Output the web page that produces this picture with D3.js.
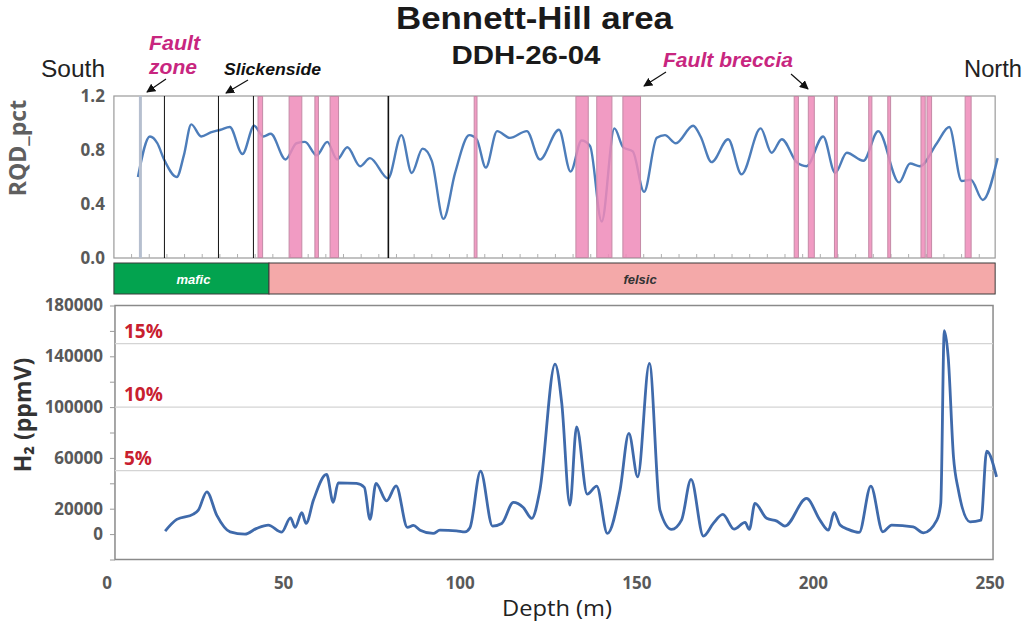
<!DOCTYPE html>
<html>
<head>
<meta charset="utf-8">
<script src="https://cdn.jsdelivr.net/npm/d3@7"></script>
<style>
  body { margin: 0; background: #fff; }
  svg { display: block; }
</style>
</head>
<body>
<div id="chart"></div>
<script>
// RQD log (depth in m, fraction)
const rqdDepth = [8.9, 12.3, 14.4, 16.3, 19.9, 21.9, 24.0, 26.8, 29.5, 32.3, 34.9, 38.5, 41.8, 44.4, 46.5,
  50.7, 53.8, 56.2, 59.5, 62.5, 65.3, 68.2, 71.8, 74.6, 79.7, 83.5, 86.4, 89.5, 92.1, 95.4, 98.7,
  102.7, 104.8, 107.4, 110.6, 114.2, 119.0, 122.7, 128.1, 131.4, 134.5, 136.9, 140.2, 143.8, 146.3,
  149.0, 152.2, 155.8, 158.1, 161.2, 166.1, 168.2, 171.3, 176.0, 179.8, 185.2, 188.3, 191.2, 195.4,
  198.2, 202.9, 206.3, 209.6, 214.3, 218.5, 224.4, 227.5, 230.3, 235.1, 238.6, 242.1, 244.7, 248.1, 252.3];
const rqdValue = [0.60, 0.90, 0.85, 0.73, 0.60, 0.76, 0.99, 0.90, 0.93, 0.95, 0.97, 0.77, 0.98, 0.90, 0.92,
  0.73, 0.85, 0.86, 0.76, 0.86, 0.73, 0.82, 0.68, 0.74, 0.59, 0.91, 0.63, 0.81, 0.72, 0.29, 0.63,
  0.91, 0.88, 0.67, 0.94, 0.89, 0.94, 0.73, 0.95, 0.64, 0.87, 0.83, 0.27, 0.96, 0.82,
  0.79, 0.49, 0.89, 0.91, 0.85, 0.98, 0.90, 0.71, 0.88, 0.62, 0.96, 0.78, 0.88, 0.71,
  0.68, 0.90, 0.63, 0.78, 0.72, 0.94, 0.56, 0.70, 0.68, 0.85, 0.97, 0.57, 0.58, 0.43, 0.74];

// H2 log (depth in m, ppmV)
const h2Depth = [16.6, 19.9, 24.6, 26.0, 28.4, 31.2, 35.0, 39.2, 42.5, 45.8, 49.6, 52.1, 53.4, 55.3, 56.5,
  58.6, 62.3, 64.2, 65.6, 70.8, 73.0, 74.6, 76.3, 79.3, 82.0, 85.2, 86.9, 88.8, 92.5, 94.4, 99.1,
  101.5, 102.9, 105.9, 109.3, 111.9, 115.2, 118.0, 120.4, 122.7, 127.0, 128.9, 131.2, 133.1, 136.1,
  138.8, 141.8, 145.4, 147.9, 150.4, 153.7, 156.7, 160.0, 162.8, 165.5, 169.0, 171.8, 174.5, 177.7,
  180.8, 182.0, 183.6, 186.9, 189.8, 192.1, 198.2, 202.0, 204.4, 206.0, 207.7, 210.0, 213.1, 216.4,
  219.8, 222.3, 228.4, 231.3, 235.1, 236.2, 237.2, 238.3, 239.8, 241.2, 244.5, 247.6, 249.2, 252.0];
const h2Value = [2400, 11600, 15700, 18900, 33300, 15000, 1800, 0, 4500, 7100, 1600, 12800, 5300, 16800, 8400,
  26800, 47000, 25000, 40400, 39900, 36800, 11600, 39900, 26200, 38000, 5300, 6800, 3100, 500, 3100, 2600,
  1800, 5000, 49600, 6300, 8400, 25000, 21000, 12400, 34600, 133900, 102900, 22800, 84500, 31500,
  37800, 500, 34600, 79300, 45100, 134400, 18900, 3700, 11000, 43100, -1600, 8400, 15500, 3900,
  9200, 3700, 24200, 12400, 10200, 6300, 28100, 11000, 3100, 17100, 7100, 3700, 1300, 37800,
  1800, 7100, 5700, 1000, 11000, 24200, 160100, 139600, 60900, 34600, 9700, 11000, 65400, 45100];

// structures along the hole (depth in m)
const breccStart = [42.9, 51.7, 59.0, 63.3, 104.1, 132.9, 138.8, 146.2, 194.7, 198.7, 206.1, 215.8, 221.2, 230.6, 232.3, 243.1];
const breccEnd   = [44.2, 55.3, 60.0, 65.7, 104.9, 136.4, 143.1, 151.2, 195.9, 200.4, 206.9, 216.7, 222.0, 231.8, 233.6, 244.8];
const faultZoneDepth = [9.6];
const slickDepth = [16.4, 31.7, 41.6, 79.8];

// lithology
const lithoName = ["mafic", "felsic"];
const lithoFrom = [2.1, 46.0];
const lithoTo = [46.0, 251.6];

// axes
const xTicks = [0, 50, 100, 150, 200, 250];
const rqdTicks = [0, 0.4, 0.8, 1.2];
const h2Ticks = [-20000, 0, 20000, 40000, 60000, 80000, 100000, 120000, 140000, 160000, 180000];
const h2Labelled = [0, 20000, 60000, 100000, 140000, 180000];
const h2Grid = [50000, 100000, 150000];
const h2GridLabel = ["5%", "10%", "15%"];

const W = 1024, H = 625;
const topBox = [2.1, 251.6];   // depth extent of the RQD panel
const botBox = [2.4, 251.0];   // depth extent of the H2 panel

const x = d3.scaleLinear().domain([0, 250]).range([106.5, 989.5]);
const yTop = d3.scaleLinear().domain([0, 1.2]).range([258, 96]);
const yBot = d3.scaleLinear().domain([-20000, 180000]).range([559.5, 305.5]);

const svg = d3.select("#chart").append("svg")
    .attr("width", W)
    .attr("height", H)
    .style("font-family", "'Liberation Sans', Arial, sans-serif");

const txt = (g, s, px, py, opts) => {
    const t = g.append("text")
        .attr("x", px).attr("y", py)
        .attr("text-anchor", opts.anchor || "start")
        .attr("font-size", opts.size)
        .attr("font-weight", opts.weight || "normal")
        .attr("font-style", opts.style || "normal")
        .attr("fill", opts.fill || "#222")
        .text(s);
    if (opts.font) t.style("font-family", opts.font);
    if (opts.len) t.attr("textLength", opts.len).attr("lengthAdjust", "spacingAndGlyphs");
    return t;
};

// ---------- titles & annotations ----------
txt(svg, "Bennett-Hill area", 534.5, 29, { anchor: "middle", size: 31, weight: "bold", fill: "#1a1a1a", len: 277 });
txt(svg, "DDH-26-04", 526, 64, { anchor: "middle", size: 25, weight: "bold", fill: "#1a1a1a", len: 149 });
txt(svg, "South", 41, 77, { size: 23, fill: "#222", len: 64 });
txt(svg, "North", 964, 77, { size: 23, fill: "#222", len: 58 });

const magenta = "#c8267f";
txt(svg, "Fault", 149, 50, { size: 20, weight: "bold", style: "italic", fill: magenta, len: 51 });
txt(svg, "zone", 149, 74, { size: 20, weight: "bold", style: "italic", fill: magenta, len: 48 });
txt(svg, "Slickenside", 224, 75, { size: 16, weight: "bold", style: "italic", fill: "#111", len: 97 });
txt(svg, "Fault breccia", 663, 67, { size: 20, weight: "bold", style: "italic", fill: magenta, len: 130 });

svg.append("defs").append("marker")
    .attr("id", "head")
    .attr("viewBox", "0 0 10 10")
    .attr("refX", 9).attr("refY", 5)
    .attr("markerWidth", 9).attr("markerHeight", 9)
    .attr("markerUnits", "userSpaceOnUse")
    .attr("orient", "auto")
    .append("path")
    .attr("d", "M0,0L10,5L0,10Z")
    .attr("fill", "#111");

const arrows = [
    [166, 79, 147, 92],
    [248, 80, 226, 93],
    [666, 72, 644, 86],
    [791, 74, 808, 89]
];
svg.append("g").selectAll("line")
    .data(arrows)
    .join("line")
    .attr("x1", d => d[0]).attr("y1", d => d[1])
    .attr("x2", d => d[2]).attr("y2", d => d[3])
    .attr("stroke", "#111")
    .attr("stroke-width", 1.2)
    .attr("marker-end", "url(#head)");

// ---------- RQD panel ----------
const topG = svg.append("g");

topG.append("rect")
    .attr("x", x(topBox[0])).attr("y", yTop(1.2))
    .attr("width", x(topBox[1]) - x(topBox[0]))
    .attr("height", yTop(0) - yTop(1.2))
    .attr("fill", "#fff")
    .attr("stroke", "#9a9a9a")
    .attr("stroke-width", 1.2);

// small depth ticks every 5 m along the base
const minor = d3.range(topBox[0] + 5, topBox[1], 5);
topG.append("g").selectAll("line")
    .data(minor)
    .join("line")
    .attr("x1", d => x(d)).attr("x2", d => x(d))
    .attr("y1", yTop(0)).attr("y2", yTop(0) - 4)
    .attr("stroke", "#b0b0b0");

const rqdLine = d3.line()
    .x((d, i) => x(rqdDepth[i]))
    .y(d => yTop(d))
    .curve(d3.curveMonotoneX);

topG.append("path")
    .datum(rqdValue)
    .attr("d", rqdLine)
    .attr("fill", "none")
    .attr("stroke", "#4d7dba")
    .attr("stroke-width", 2.4);

// fault breccia intervals (drawn over the curve, translucent)
topG.append("g").selectAll("rect")
    .data(breccStart)
    .join("rect")
    .attr("x", d => x(d))
    .attr("width", (d, i) => Math.max(1.5, x(breccEnd[i]) - x(d)))
    .attr("y", yTop(1.2) + 0.5)
    .attr("height", yTop(0) - yTop(1.2) - 1)
    .attr("fill", "#ee8ab8")
    .attr("fill-opacity", 0.85)
    .attr("stroke", "#c48aa6")
    .attr("stroke-width", 1);

topG.append("g").selectAll("line.fz")
    .data(faultZoneDepth)
    .join("line")
    .attr("x1", d => x(d)).attr("x2", d => x(d))
    .attr("y1", yTop(1.2)).attr("y2", yTop(0))
    .attr("stroke", "#b6bfcf")
    .attr("stroke-width", 3);

topG.append("g").selectAll("line.sl")
    .data(slickDepth)
    .join("line")
    .attr("x1", d => x(d)).attr("x2", d => x(d))
    .attr("y1", yTop(1.2)).attr("y2", yTop(0))
    .attr("stroke", "#111")
    .attr("stroke-width", (d, i) => i === slickDepth.length - 1 ? 1.6 : 1);

const yTopAxis = topG.append("g")
    .attr("transform", `translate(${x(topBox[0])},0)`)
    .call(d3.axisLeft(yTop).tickValues(rqdTicks).tickFormat(d3.format(".1f")).tickSize(0).tickPadding(9));
yTopAxis.select(".domain").remove();
yTopAxis.selectAll("text")
    .style("font-family", "'Open Sans', sans-serif")
    .attr("font-size", 17)
    .attr("font-weight", "bold")
    .attr("fill", "#595959");

txt(svg, "RQD_pct", 0, 0, { anchor: "middle", size: 23, weight: "bold", fill: "#5f5f5f", font: "'Open Sans', sans-serif" })
    .attr("transform", "translate(26,148) rotate(-90)");

// ---------- lithology strip ----------
const lithoG = svg.append("g");
lithoG.selectAll("rect")
    .data(lithoName)
    .join("rect")
    .attr("x", (d, i) => x(lithoFrom[i]))
    .attr("width", (d, i) => x(lithoTo[i]) - x(lithoFrom[i]))
    .attr("y", 263)
    .attr("height", 31)
    .attr("fill", d => d === "mafic" ? "#03a34f" : "#f4a9a9")
    .attr("stroke", "#3a3a3a")
    .attr("stroke-width", 1);

lithoG.selectAll("text")
    .data(lithoName)
    .join("text")
    .attr("x", (d, i) => x((lithoFrom[i] + lithoTo[i]) / 2) + (d === "mafic" ? 2 : 8))
    .attr("y", 283.5)
    .attr("text-anchor", "middle")
    .attr("font-size", 13)
    .attr("font-weight", "bold")
    .attr("font-style", "italic")
    .attr("fill", d => d === "mafic" ? "#fff" : "#333")
    .text(d => d);

// ---------- H2 panel ----------
const botG = svg.append("g");

botG.append("rect")
    .attr("x", x(botBox[0])).attr("y", yBot(180000))
    .attr("width", x(botBox[1]) - x(botBox[0]))
    .attr("height", yBot(-20000) - yBot(180000))
    .attr("fill", "#fff")
    .attr("stroke", "#8a8a8a")
    .attr("stroke-width", 1.5);

botG.append("g").selectAll("line")
    .data(h2Grid)
    .join("line")
    .attr("x1", x(botBox[0])).attr("x2", x(botBox[1]))
    .attr("y1", d => yBot(d)).attr("y2", d => yBot(d))
    .attr("stroke", "#d4d4d4")
    .attr("stroke-width", 1.2);

botG.append("g").selectAll("text")
    .data(h2Grid)
    .join("text")
    .attr("x", 124)
    .attr("y", d => yBot(d) - 6)
    .style("font-family", "'Open Sans', sans-serif")
    .attr("font-size", 19)
    .attr("font-weight", "bold")
    .attr("fill", "#c8202f")
    .text((d, i) => h2GridLabel[i]);

const h2Line = d3.line()
    .x((d, i) => x(h2Depth[i]))
    .y(d => yBot(d))
    .curve(d3.curveMonotoneX);

botG.append("path")
    .datum(h2Value)
    .attr("d", h2Line)
    .attr("fill", "none")
    .attr("stroke", "#3f6aab")
    .attr("stroke-width", 2.8)
    .attr("stroke-linejoin", "round");

const yBotAxis = botG.append("g")
    .attr("transform", `translate(${x(botBox[0])},0)`)
    .call(d3.axisLeft(yBot).tickValues(h2Ticks)
        .tickFormat(d => h2Labelled.includes(d) ? d : "")
        .tickSize(5).tickPadding(7));
yBotAxis.select(".domain").remove();
yBotAxis.selectAll("line").attr("stroke", "#9a9a9a");
yBotAxis.selectAll("text")
    .style("font-family", "'Open Sans', sans-serif")
    .attr("font-size", 17)
    .attr("font-weight", "bold")
    .attr("fill", "#595959");

const xAxis = botG.append("g")
    .attr("transform", "translate(0,574)")
    .call(d3.axisBottom(x).tickValues(xTicks).tickSize(0).tickPadding(3));
xAxis.select(".domain").remove();
xAxis.selectAll("text")
    .style("font-family", "'Open Sans', sans-serif")
    .attr("font-size", 17)
    .attr("font-weight", "bold")
    .attr("fill", "#595959");

txt(svg, "Depth (m)", 557, 616, { anchor: "middle", size: 21, fill: "#222", font: "'Open Sans', sans-serif", len: 110 });

const h2Title = svg.append("text")
    .attr("transform", "translate(31,415) rotate(-90)")
    .attr("text-anchor", "middle")
    .style("font-family", "'Open Sans', sans-serif")
    .attr("font-size", 23)
    .attr("font-weight", "bold")
    .attr("fill", "#333");
h2Title.append("tspan").text("H₂ (ppmV)");
</script>
</body>
</html>
